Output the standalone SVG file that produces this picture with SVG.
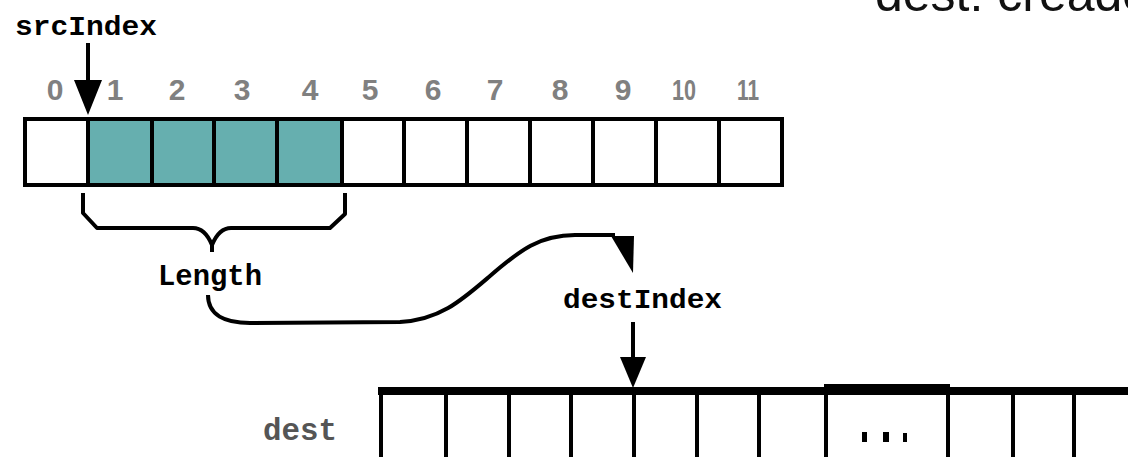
<svg xmlns="http://www.w3.org/2000/svg" width="1128" height="457" viewBox="0 0 1128 457">
  <style>
    .cell { fill: #ffffff; stroke: #000000; stroke-width: 4; }
    .sel { fill: #66afaf; stroke: #000000; stroke-width: 4; }
    .grid { stroke: #000000; stroke-width: 4; fill: none; }
    .idx { font-family: "Liberation Sans", Arial, sans-serif; font-weight: bold; font-size: 30px; fill: #808080; text-anchor: middle; }
    .lbl { font-family: "Liberation Mono", "DejaVu Sans Mono", monospace; font-weight: bold; fill: #000000; }
    .wire { fill: none; stroke: #000000; stroke-width: 4; stroke-linejoin: round; }
    .head { fill: #000000; }
  </style>

  <!-- caption, partly outside the top edge -->
  <g id="caption">
    <text x="875" y="11" font-family="'Liberation Sans', Arial, sans-serif" font-size="50" fill="#111111">dest: creado</text>
  </g>

  <!-- source array with indices -->
  <g id="src-array">
    <rect class="cell" x="25" y="119" width="757" height="66"/>
    <rect class="sel" x="88" y="119" width="254" height="66"/>
    <path class="grid" d="M152,119V185M214,119V185M277,119V185M404,119V185M467,119V185M530,119V185M593,119V185M656,119V185M719,119V185"/>
    <text class="idx" x="55" y="100">0</text>
    <text class="idx" x="115" y="100">1</text>
    <text class="idx" x="177" y="100">2</text>
    <text class="idx" x="242" y="100">3</text>
    <text class="idx" x="310" y="100">4</text>
    <text class="idx" x="370" y="100">5</text>
    <text class="idx" x="433" y="100">6</text>
    <text class="idx" x="495" y="100">7</text>
    <text class="idx" x="560" y="100">8</text>
    <text class="idx" x="623" y="100">9</text>
    <text class="idx" x="684" y="100" textLength="24" lengthAdjust="spacingAndGlyphs">10</text>
    <text class="idx" x="748" y="100" textLength="22" lengthAdjust="spacingAndGlyphs">11</text>
  </g>

  <g id="src-index-label">
    <text class="lbl" x="15" y="35" font-size="27" textLength="142" lengthAdjust="spacingAndGlyphs">srcIndex</text>
  </g>

  <g id="length-label">
    <text class="lbl" x="158" y="285" font-size="30" textLength="104" lengthAdjust="spacingAndGlyphs">Length</text>
  </g>

  <g id="dest-index-label">
    <text class="lbl" x="563" y="308" font-size="28" textLength="159" lengthAdjust="spacingAndGlyphs">destIndex</text>
  </g>

  <g id="dest-label">
    <text class="lbl" x="263" y="440" font-size="32" fill="#555555" style="fill:#555555" textLength="74" lengthAdjust="spacingAndGlyphs">dest</text>
  </g>

  <!-- destination array running off the right and bottom edges -->
  <g id="dest-array">
    <path d="M378,391H1128" stroke="#000000" stroke-width="8" fill="none"/>
    <path d="M824,388H950" stroke="#000000" stroke-width="8" fill="none"/>
    <path class="grid" d="M381,391V457M446,391V457M509,391V457M571,391V457M634,391V457M697,391V457M759,391V457M826,388V457M948,388V457M1013,391V457M1074,391V457"/>
    <rect x="862" y="432" width="5" height="10" fill="#000000"/>
    <rect x="883" y="432" width="6" height="10" fill="#000000"/>
    <rect x="903" y="433" width="4" height="9" fill="#000000"/>
  </g>

  <!-- connectors: index arrows, length brace and transfer curve -->
  <g id="connectors">
    <path class="wire" d="M88,43V86"/>
    <polygon class="head" points="74,80 102,80 88,115"/>

    <path class="wire" d="M83,193V213L97,228H193Q205,228 212,245V252M212,245Q219,228 231,228H330L345,214V193"/>

    <path class="wire" d="M208,295C208,315 225,323 250,323L400,322C440,320 462,300 490,276C520,250 540,235 575,235L615,235"/>
    <polygon class="head" points="611,236 634,236 633,273"/>

    <path class="wire" d="M633,322V362"/>
    <polygon class="head" points="620,357 646,357 633,388"/>
  </g>
</svg>
